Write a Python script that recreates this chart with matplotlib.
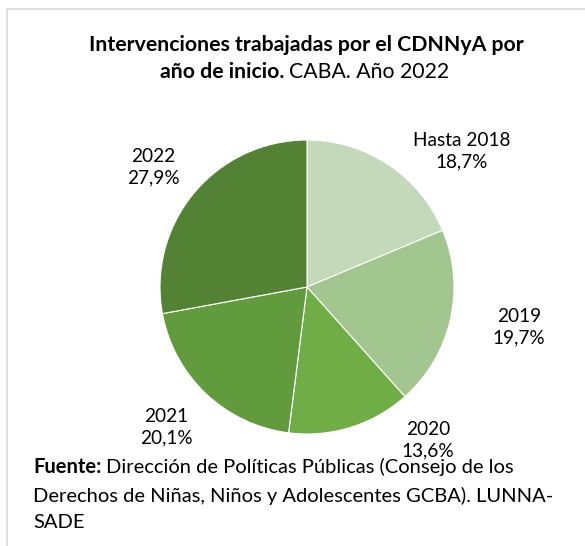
import matplotlib

matplotlib.use("Agg")
import matplotlib.pyplot as plt
from matplotlib.patches import Rectangle

# data
categories = ["Hasta 2018", "2019", "2020", "2021", "2022"]
shares = [18.7, 19.7, 13.6, 20.1, 27.9]
colors = ["#c4d8ba", "#a3c58f", "#70ad47", "#629a3e", "#548235"]

W, H = 585, 546
FONT = "Lato"

fig = plt.figure(figsize=(W / 100, H / 100), dpi=100)
renderer = fig.canvas.get_renderer()


def px(x, y):
    return x / W, 1 - y / H


def inline(y, parts, size, x0=None, center=None):
    """Draw (text, weight) pieces side by side on one line."""
    widths = []
    for s, w in parts:
        t = fig.text(0, 0, s, fontsize=size, fontweight=w, family=FONT)
        widths.append(t.get_window_extent(renderer).width)
        t.remove()
    gap = size * 0.3
    total = sum(widths) + gap * (len(parts) - 1)
    x = x0 if x0 is not None else center - total / 2
    for (s, w), wd in zip(parts, widths):
        fig.text(*px(x, y), s, ha="left", va="center", fontsize=size,
                 fontweight=w, family=FONT)
        x += wd + gap


# light frame around the chart area
fig.patches.append(Rectangle((7 / W, -0.1), 1.1, 1 - 9 / H + 0.1,
                             transform=fig.transFigure, fill=False,
                             edgecolor="#d9d9d9", linewidth=1.2))

# pie axes: centre (307, 287) px, radius 147 px
cx, cy, r = 307, 287, 147
ax = fig.add_axes([(cx - r) / W, 1 - (cy + r) / H, 2 * r / W, 2 * r / H])
ax.pie(shares, colors=colors, startangle=90, counterclock=False,
       wedgeprops=dict(edgecolor="white", linewidth=0.8))
ax.set_xlim(-1, 1)
ax.set_ylim(-1, 1)
ax.set_aspect("equal")
ax.axis("off")

# title
TS = 15.3
fig.text(*px(306, 45), "Intervenciones trabajadas por el CDNNyA por",
         ha="center", va="center", fontsize=TS, fontweight="bold", family=FONT)
inline(72, [("año de inicio.", "bold"), ("CABA. Año 2022", "normal")], TS,
       center=305)

# data labels
label_pos = [(462, 151), (519, 327), (428, 440), (166, 427), (153, 167)]
for (x, y), cat, val in zip(label_pos, categories, shares):
    txt = f"{cat}\n{val:.1f}%".replace(".", ",")
    fig.text(*px(x, y), txt, ha="center", va="center", fontsize=13.7,
             family=FONT, linespacing=1.3)

# source
FS = 14.5
inline(467, [("Fuente:", "bold"),
             ("Dirección de Políticas Públicas (Consejo de los", "normal")],
       FS, x0=33)
fig.text(*px(33, 496), "Derechos de Niñas, Niños y Adolescentes GCBA). LUNNA-",
         ha="left", va="center", fontsize=FS, family=FONT)
fig.text(*px(33, 523), "SADE", ha="left", va="center", fontsize=FS,
         family=FONT)

fig.savefig("out.png", dpi=100)
